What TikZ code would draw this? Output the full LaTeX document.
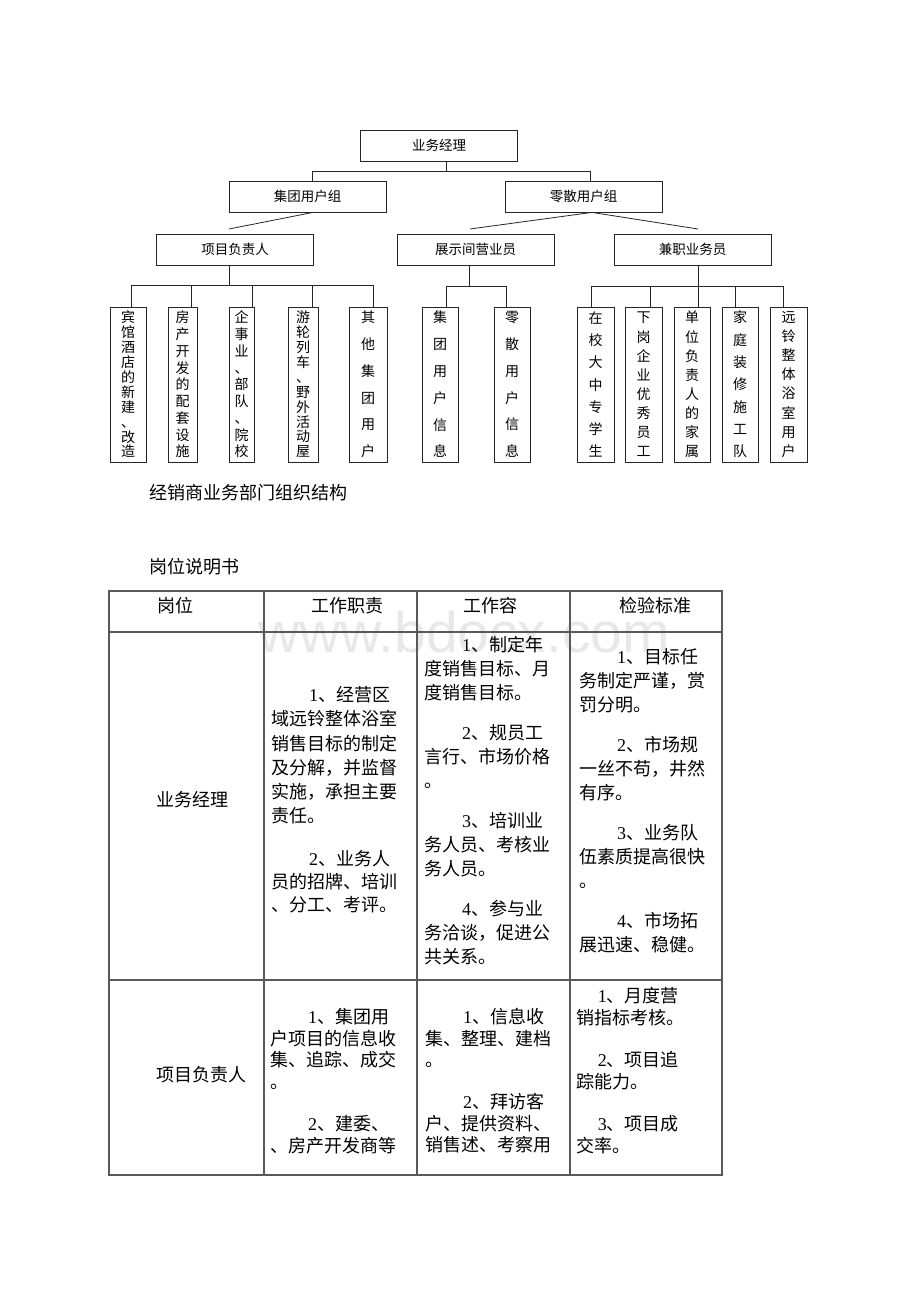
\documentclass[tikz,border=0pt]{standalone}
\usepackage{fontspec}
\setmainfont{Noto Sans CJK SC}
\newfontfamily\latin{Liberation Serif}
\newfontfamily\wmfont{Liberation Sans}
\newcommand{\nr}[1]{{\latin #1}}
\newcommand{\ind}{\hspace*{2.1em}}
\lineskiplimit=-50pt

\begin{document}
\begin{tikzpicture}[x=1pt, y=-1pt,
  main/.style = {draw=black!85, line width=0.8pt, inner sep=0pt, minimum width=157pt, minimum height=31pt,
                 font=\fontsize{13.5}{16}\selectfont, text height=11.9pt, text depth=1.6pt},
  leaf/.style = {draw=black!85, line width=0.8pt, inner sep=0pt, minimum height=155pt, align=center,
                 font=\fontsize{14}{#1}\selectfont},
  conn/.style = {draw=black!85, line width=0.8pt},
  grid/.style = {draw=black!65, line width=1.2pt},
  txt/.style = {anchor=west, inner sep=0pt, font=\fontsize{18}{24}\selectfont, text height=15.84pt, text depth=2.16pt},
  head/.style = {txt, anchor=center}]
\useasboundingbox (0,0) rectangle (920,1302);

% org chart
\node[main] (1) at (439,145.5) {业务经理};
\node[main] (2) at (307.5,196.5) {集团用户组};
\node[main] (3) at (583.5,196.5) {零散用户组};
\node[main] (4) at (235,249.5) {项目负责人};
\node[main] (5) at (475.5,249.5) {展示间营业员};
\node[main] (6) at (692.5,249.5) {兼职业务员};

\node[leaf=14.9, minimum width=36pt] (7) at (128,384.5) {宾\\馆\\酒\\店\\的\\新\\建\\、\\改\\造};
\node[leaf=16.75, minimum width=29pt] (8) at (182.5,384.5) {房\\产\\开\\发\\的\\配\\套\\设\\施};
\node[leaf=16.75, minimum width=25pt] (9) at (241.5,384.5) {企\\事\\业\\、\\部\\队\\、\\院\\校};
\node[leaf=14.9, minimum width=30pt] (10) at (303,384.5) {游\\轮\\列\\车\\、\\野\\外\\活\\动\\屋};
\node[leaf=26.8, minimum width=38pt] (11) at (368,384.5) {其\\他\\集\\团\\用\\户};

\node[leaf=26.8, minimum width=36pt] (12) at (440,384.5) {集\\团\\用\\户\\信\\息};
\node[leaf=26.8, minimum width=36pt] (13) at (512,384.5) {零\\散\\用\\户\\信\\息};

\node[leaf=22.3, minimum width=37pt] (14) at (595.5,384.5) {在\\校\\大\\中\\专\\学\\生};
\node[leaf=19.1, minimum width=37pt] (15) at (643.5,384.5) {下\\岗\\企\\业\\优\\秀\\员\\工};
\node[leaf=19.1, minimum width=36pt] (16) at (692,384.5) {单\\位\\负\\责\\人\\的\\家\\属};
\node[leaf=22.3, minimum width=36pt] (17) at (740,384.5) {家\\庭\\装\\修\\施\\工\\队};
\node[leaf=19.1, minimum width=37pt] (18) at (788.5,384.5) {远\\铃\\整\\体\\浴\\室\\用\\户};

\coordinate (t0) at (446,171);
\coordinate (t1) at (312,171);
\coordinate (t2) at (590,171);
\draw[conn] (1.south -| t0) -- (t0);
\draw[conn] (t1) -- (t2);
\draw[conn] (t1) -- (t1 |- 2.north);
\draw[conn] (t2) -- (t2 |- 3.north);

\coordinate (s1) at (229,229);
\coordinate (s2) at (470,229);
\coordinate (s3) at (698,229);
\draw[conn] (2.south -| 313,0) -- (s1);
\draw[conn] (3.south -| 592,0) -- (s2);
\draw[conn] (3.south -| 592,0) -- (s3);

\coordinate (u4) at (229,285);
\coordinate (u5) at (469,286);
\coordinate (u6) at (698,286);
\draw[conn] (4.south -| u4) -- (u4);
\draw[conn] (5.south -| u5) -- (u5);
\draw[conn] (6.south -| u6) -- (u6);
\draw[conn] (131,285) -- (373,285);
\draw[conn] (446,286) -- (506,286);
\draw[conn] (591,286) -- (783,286);
\foreach \n/\x/\y in {7/131/285, 8/191/285, 9/252/285, 10/312/285, 11/373/285,
                      12/446/286, 13/506/286,
                      14/591/286, 15/650/286, 16/698/286, 17/735/286, 18/783/286}{
  \coordinate (d\n) at (\x,\y);
  \draw[conn] (d\n) -- (d\n |- \n.north);
}

% captions
\node[txt] (cap) at (149,493) {经销商业务部门组织结构};
\node[txt] (sub) at (149,567) {岗位说明书};

% watermark
\node[anchor=base west, inner sep=0pt, text=black!9, font=\wmfont\fontsize{57}{60}\selectfont] (wm) at (258,652) {www.bdocx.com};

% table
\draw[grid] (109,591) rectangle (722,1175);
\foreach \x in {264,417,570} \draw[grid] (\x,591) -- (\x,1175);
\foreach \y in {632,980} \draw[grid] (109,\y) -- (722,\y);

\node[head] (h1) at (175,606) {岗位};
\node[head] (h2) at (347,606) {工作职责};
\node[head] (h3) at (490,606) {工作容};
\node[head] (h4) at (655,606) {检验标准};

% row 1
\node[txt] (r1) at (156,800) {业务经理};
\foreach \y/\lbl [count=\i] in {695/{\ind\nr{1}、经营区}, 719/域远铃整体浴室, 744/销售目标的制定,
    768/及分解，并监督, 792/实施，承担主要, 816/责任。,
    859/{\ind\nr{2}、业务人}, 882/员的招牌、培训, 905/、分工、考评。}
  \node[txt] (b\i) at (271,\y) {\lbl};
\foreach \y/\lbl [count=\i] in {645/{\ind\nr{1}、制定年}, 669/度销售目标、月, 693/度销售目标。,
    733/{\ind\nr{2}、规员工}, 757/言行、市场价格, 781/。,
    821/{\ind\nr{3}、培训业}, 845/务人员、考核业, 869/务人员。,
    909/{\ind\nr{4}、参与业}, 933/务洽谈，促进公, 957/共关系。}
  \node[txt] (c\i) at (424,\y) {\lbl};
\foreach \y/\lbl [count=\i] in {657/{\ind\nr{1}、目标任}, 681/务制定严谨，赏, 705/罚分明。,
    745/{\ind\nr{2}、市场规}, 769/一丝不苟，井然, 793/有序。,
    833/{\ind\nr{3}、业务队}, 857/伍素质提高很快, 881/。,
    921/{\ind\nr{4}、市场拓}, 945/展迅速、稳健。}
  \node[txt] (e\i) at (579,\y) {\lbl};

% row 2
\node[txt] (r2) at (156,1075) {项目负责人};
\foreach \y/\lbl [count=\i] in {1017/{\ind\nr{1}、集团用}, 1038.5/户项目的信息收, 1060/集、追踪、成交, 1081.5/。,
    1124/{\ind\nr{2}、建委、}, 1145.5/、房产开发商等}
  \node[txt] (f\i) at (270,\y) {\lbl};
\foreach \y/\lbl [count=\i] in {1017/{\ind\nr{1}、信息收}, 1038.5/集、整理、建档, 1060/。,
    1102/{\ind\nr{2}、拜访客}, 1123.5/户、提供资料、, 1145/销售述、考察用}
  \node[txt] (g\i) at (425,\y) {\lbl};
\foreach \y/\lbl [count=\i] in {996/{\hspace*{1.2em}\nr{1}、月度营}, 1017.5/销指标考核。,
    1060/{\hspace*{1.2em}\nr{2}、项目追}, 1081.5/踪能力。,
    1124/{\hspace*{1.2em}\nr{3}、项目成}, 1145.5/交率。}
  \node[txt] (k\i) at (576,\y) {\lbl};

\end{tikzpicture}
\end{document}
